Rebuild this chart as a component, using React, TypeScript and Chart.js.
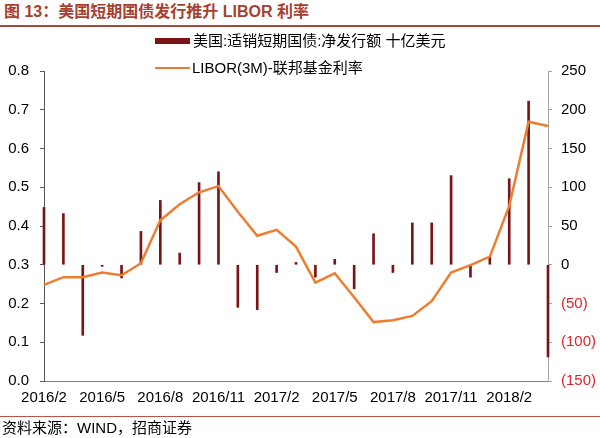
import React, { useEffect, useRef } from "react";
import { Chart, registerables } from "chart.js";

Chart.register(...registerables);

const categories = [
  "2016/2", "2016/3", "2016/4", "2016/5", "2016/6", "2016/7", "2016/8", "2016/9",
  "2016/10", "2016/11", "2016/12", "2017/1", "2017/2", "2017/3", "2017/4", "2017/5",
  "2017/6", "2017/7", "2017/8", "2017/9", "2017/10", "2017/11", "2017/12", "2018/1",
  "2018/2", "2018/3", "2018/4",
];

// 美国:适销短期国债:净发行额 十亿美元 (right axis)
const netIssuance = [
  74, 66, -91, -2, -17, 43, 83, 15, 106, 120, -55, -58, -10, 3, -16, 7,
  -31, 40, -10, 54, 54, 115, -16, 10, 111, 211, -119,
];

// LIBOR(3M)-联邦基金利率 (left axis)
const spread = [
  0.248, 0.268, 0.268, 0.28, 0.273, 0.304, 0.415, 0.456, 0.487, 0.503, 0.437, 0.375,
  0.39, 0.347, 0.254, 0.278, 0.216, 0.152, 0.157, 0.168, 0.206, 0.28, 0.299, 0.321,
  0.452, 0.669, 0.658,
];

const xTickLabels = [
  "2016/2", "2016/5", "2016/8", "2016/11", "2017/2", "2017/5", "2017/8", "2017/11", "2018/2",
];

const barLabel = "美国:适销短期国债:净发行额 十亿美元";
const lineLabel = "LIBOR(3M)-联邦基金利率";
const titleText = "图 13：美国短期国债发行推升 LIBOR 利率";
const sourceText = "资料来源：WIND，招商证券";

const FONT = '"Liberation Sans", Arial, "Noto Sans CJK SC", sans-serif';
const BAR_COLOR = "#7B1416";
const LINE_COLOR = "#ED7D31";

export default function App() {
  const ref = useRef<HTMLCanvasElement>(null);

  useEffect(() => {
    const chart = new Chart(ref.current as HTMLCanvasElement, {
      type: "bar",
      data: {
        labels: categories,
        datasets: [
          {
            type: "line",
            label: lineLabel,
            data: spread,
            yAxisID: "y",
            borderColor: LINE_COLOR,
            backgroundColor: LINE_COLOR,
            borderWidth: 2.5,
            pointRadius: 0,
            tension: 0,
            order: 0,
          } as any,
          {
            type: "bar",
            label: barLabel,
            data: netIssuance,
            yAxisID: "y1",
            backgroundColor: BAR_COLOR,
            barThickness: 2,
            clip: false,
            order: 1,
          } as any,
        ],
      },
      options: {
        responsive: false,
        maintainAspectRatio: false,
        devicePixelRatio: 1,
        animation: false,
        layout: { padding: { top: 71, left: 0, right: 0, bottom: 0 } },
        plugins: {
          legend: { display: false },
          tooltip: { enabled: false },
        },
        scales: {
          x: {
            offset: false,
            grid: { display: false, drawTicks: false },
            border: { display: true, color: "#808080", width: 1 },
            ticks: {
              autoSkip: false,
              maxRotation: 0,
              minRotation: 0,
              padding: 8,
              color: "#000",
              font: { family: FONT, size: 15 },
              callback: (_v: any, i: number) =>
                xTickLabels.includes(categories[i]) ? categories[i] : "",
            },
            afterFit: (s: any) => {
              s.height = 57;
            },
          },
          y: {
            position: "left",
            min: 0,
            max: 0.8,
            grid: {
              drawOnChartArea: false,
              drawTicks: true,
              tickLength: 4,
              tickColor: "#595959",
            },
            border: { display: true, color: "#595959", width: 1 },
            ticks: {
              stepSize: 0.1,
              padding: 11,
              color: "#000",
              font: { family: FONT, size: 15 },
              callback: (v: any) => Number(v).toFixed(1),
            },
            afterFit: (s: any) => {
              s.width = 44;
            },
          },
          y1: {
            position: "right",
            min: -150,
            max: 250,
            grid: {
              drawOnChartArea: false,
              drawTicks: true,
              tickLength: 4,
              tickColor: "#A6A6A6",
            },
            border: { display: true, color: "#A6A6A6", width: 1 },
            ticks: {
              stepSize: 50,
              padding: 9,
              font: { family: FONT, size: 15 },
              color: (ctx: any) => (ctx.tick && ctx.tick.value < 0 ? "#E0242B" : "#000"),
              callback: (v: any) => (Number(v) < 0 ? `(${-Number(v)})` : `${v}`),
            },
            afterFit: (s: any) => {
              s.width = 52;
            },
          },
        },
      },
    });
    return () => chart.destroy();
  }, []);

  return (
    <div
      style={{
        position: "absolute",
        left: 0,
        top: 0,
        width: 600,
        height: 438,
        background: "#fff",
        overflow: "hidden",
        fontFamily: FONT,
      }}
    >
      <div
        style={{
          position: "absolute",
          left: 4,
          top: 2,
          fontSize: 16,
          lineHeight: "20px",
          fontWeight: "bold",
          color: "#A8402F",
          whiteSpace: "nowrap",
        }}
      >
        {titleText}
      </div>
      <div
        style={{
          position: "absolute",
          left: 0,
          top: 25,
          width: 600,
          height: 2,
          background: "#A24A3D",
        }}
      />
      <canvas
        ref={ref}
        width={600}
        height={438}
        style={{ position: "absolute", left: 0, top: 0, width: 600, height: 438, display: "block" }}
      />
      <div
        style={{
          position: "absolute",
          left: 155,
          top: 38,
          width: 35,
          height: 6,
          background: BAR_COLOR,
        }}
      />
      <div
        style={{
          position: "absolute",
          left: 193,
          top: 31,
          fontSize: 15,
          lineHeight: "20px",
          color: "#000",
          whiteSpace: "nowrap",
        }}
      >
        {barLabel}
      </div>
      <div
        style={{
          position: "absolute",
          left: 155,
          top: 66.5,
          width: 35,
          height: 2.5,
          background: LINE_COLOR,
        }}
      />
      <div
        style={{
          position: "absolute",
          left: 192,
          top: 58,
          fontSize: 15,
          lineHeight: "20px",
          color: "#000",
          whiteSpace: "nowrap",
        }}
      >
        {lineLabel}
      </div>
      <div
        style={{
          position: "absolute",
          left: 0,
          top: 416,
          width: 600,
          height: 1,
          background: "#C0504D",
        }}
      />
      <div
        style={{
          position: "absolute",
          left: 2,
          top: 418,
          fontSize: 15,
          lineHeight: "20px",
          color: "#000",
          whiteSpace: "nowrap",
        }}
      >
        {sourceText}
      </div>
    </div>
  );
}
